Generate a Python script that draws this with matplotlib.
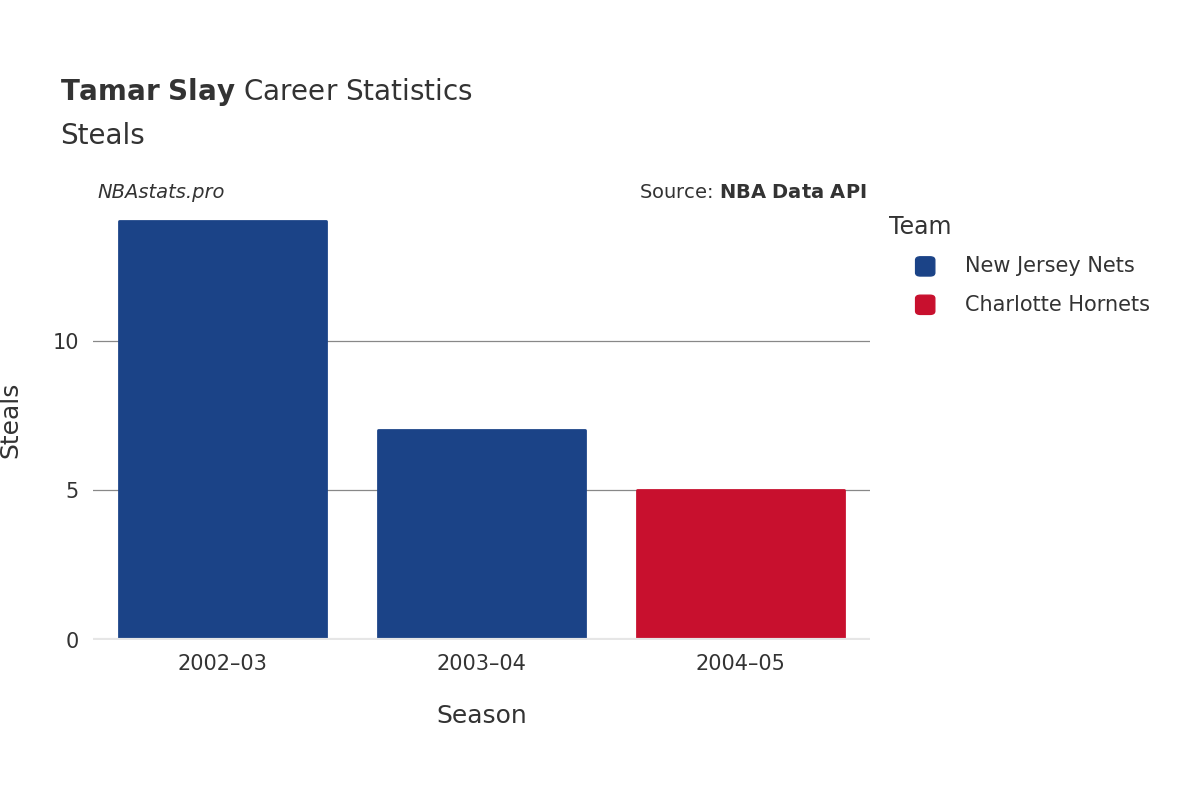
import matplotlib
matplotlib.use("Agg")
import matplotlib.pyplot as plt

seasons = ["2002–03", "2003–04", "2004–05"]
steals = [14, 7, 5]
teams = ["New Jersey Nets", "New Jersey Nets", "Charlotte Hornets"]
team_colors = {"New Jersey Nets": "#1b4387", "Charlotte Hornets": "#c8102e"}
yticks = [0, 5, 10]

TXT = "#333333"
fig = plt.figure(figsize=(12, 8), dpi=100)
ax = fig.add_axes([0.0775, 0.2, 0.6475, 0.55])

x = range(len(seasons))
ax.bar(x, steals, width=0.8, color=[team_colors[t] for t in teams],
       edgecolor=[team_colors[t] for t in teams], linewidth=2, joinstyle="round", zorder=2)
ax.set_xlim(-0.5, 2.5)
ax.set_ylim(0, 14.7)
ax.set_yticks(yticks)
ax.set_xticks(list(x))
ax.set_xticklabels(seasons)
for y in yticks[1:]:
    ax.axhline(y, color="#888888", lw=0.9, zorder=1)
ax.axhline(0, color="#e6e6e6", lw=3, zorder=3)
for s in ax.spines.values():
    s.set_visible(False)
ax.tick_params(length=0, labelsize=15, colors=TXT, pad=10)
ax.set_xlabel("Season", fontsize=18, color=TXT, labelpad=22)
ax.set_ylabel("Steals", fontsize=18, color=TXT, labelpad=22)

fig.text(0.05, 0.875, "$\\bf{Tamar\\ Slay}$ Career Statistics", fontsize=20, color=TXT)
fig.text(0.05, 0.82, "Steals", fontsize=20, color=TXT)
fig.text(0.081, 0.752, "NBAstats.pro", fontsize=14, style="italic", color=TXT)
fig.text(0.722, 0.752, "Source: $\\bf{NBA\\ Data\\ API}$", fontsize=14, color=TXT, ha="right")

fig.text(0.741, 0.707, "Team", fontsize=17, color=TXT)
for i, t in enumerate(["New Jersey Nets", "Charlotte Hornets"]):
    yy = 0.667 - i * 0.048
    fig.patches.append(matplotlib.patches.FancyBboxPatch(
        (0.763, yy - 0.012), 0.016, 0.024, boxstyle="round,pad=0,rounding_size=0.004",
        transform=fig.transFigure, color=team_colors[t]))
    fig.text(0.804, yy, t, fontsize=15, color=TXT, va="center")

fig.savefig("out.png", dpi=100)
